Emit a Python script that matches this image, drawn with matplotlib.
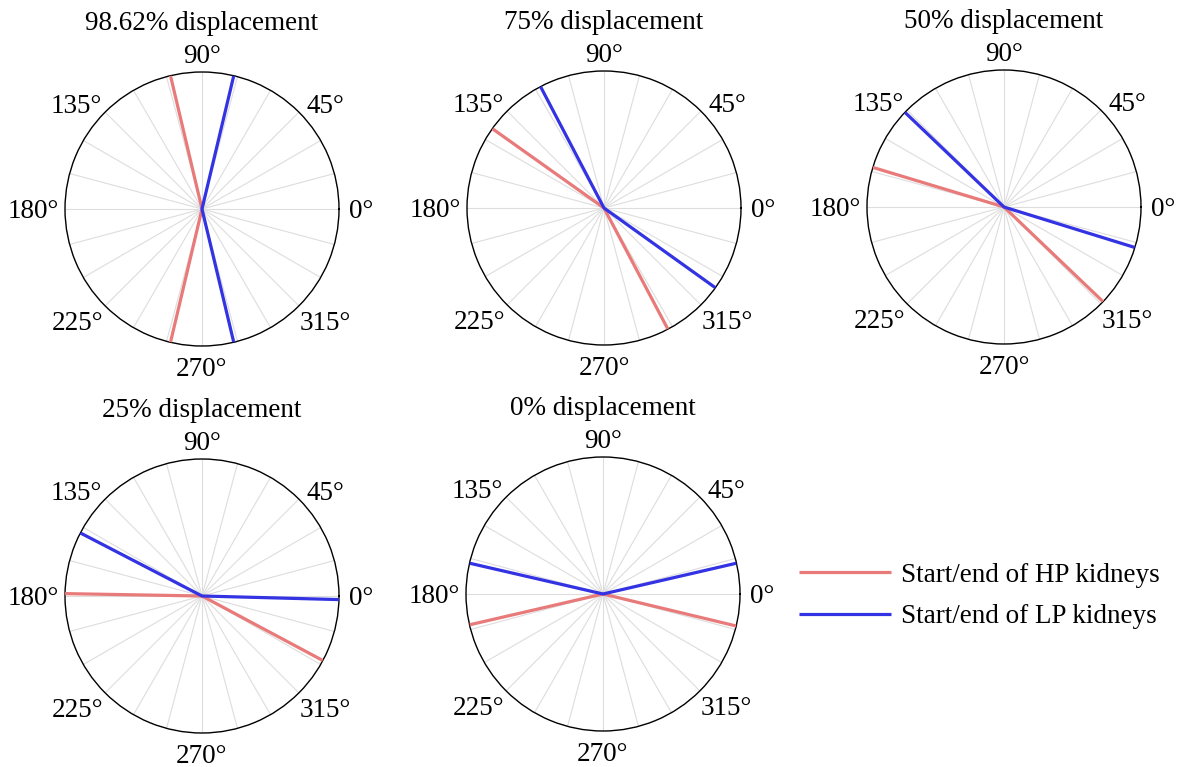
import numpy as np
import matplotlib
matplotlib.use("Agg")
import matplotlib.pyplot as plt

plt.rcParams['font.family'] = ['Liberation Serif', 'DejaVu Serif']

titles = ["98.62% displacement", "75% displacement", "50% displacement",
          "25% displacement", "0% displacement"]
# start/end angles (degrees) of HP and LP kidneys
hp_start = [103.3, 144.6, 163.2, 179.0, 193.0]
hp_end = [256.7, 297.8, 316.3, 331.9, 346.5]
lp_start = [76.6, 117.6, 136.3, 152.6, 13.0]
lp_end = [283.4, 324.4, 342.8, 358.5, 167.0]
tick_deg = [0, 45, 90, 135, 180, 225, 270, 315]
tick_labels = ["0°", "45°", "90°", "135°", "180°", "225°", "270°", "315°"]
legend_labels = ["Start/end of HP kidneys", "Start/end of LP kidneys"]

HP_COLOR = '#E87A7A'
LP_COLOR = '#3333E3'
FS = 19.5

# label placement style: (dx px, dy px (up), ha) relative to circle point, baseline aligned
label_style = {
    0: (10, -9, 'left'), 45: (8, -1, 'left'), 90: (0, 9, 'center'),
    135: (-3, -1, 'right'), 180: (-6, -9, 'right'), 225: (-2, -24, 'right'),
    270: (0, -30, 'center'), 315: (1, -24, 'left'),
}

W, H = 1178, 767
fig = plt.figure(figsize=(W / 100, H / 100), dpi=100)

centers = [(202, 209), (604, 208), (1004, 207), (202, 596), (603, 594)]
R = 137

def draw_pair(ax, a, b, color):
    t1, t2 = np.deg2rad(a), np.deg2rad(b)
    line, = ax.plot([t1, t1, t2, t2], [1, 0, 0, 1], color=color, lw=2.3,
                    solid_capstyle='butt', zorder=3)
    return line

handles = []
for i, (cx, cy) in enumerate(centers):
    ax = fig.add_axes([(cx - R) / W, (H - cy - R) / H, 2 * R / W, 2 * R / H],
                      projection='polar')
    ax.set_ylim(0, 1)
    ax.set_yticks([])
    ax.set_thetagrids(np.arange(0, 360, 15), labels=[''] * 24)
    ax.xaxis.grid(True, color='#DDDDDD', lw=0.8)
    ax.yaxis.grid(False)
    ax.tick_params(axis='x', length=0)
    ax.spines['polar'].set_color('black')
    ax.spines['polar'].set_linewidth(1.0)
    for d, lab in zip(tick_deg, tick_labels):
        dx, dy, ha = label_style[d]
        ax.annotate(lab, xy=(np.deg2rad(d), 1.0), xycoords='data',
                    xytext=(dx, dy), textcoords='offset pixels',
                    ha=ha, va='baseline', fontsize=FS, annotation_clip=False)
    h1 = draw_pair(ax, hp_start[i], hp_end[i], HP_COLOR)
    h2 = draw_pair(ax, lp_start[i], lp_end[i], LP_COLOR)
    ax.set_title(titles[i], fontsize=FS, y=1.153, pad=0)
    handles = [h1, h2]

fig.legend(handles, legend_labels, loc='center left',
           bbox_to_anchor=(775 / W, 1 - 596 / H), frameon=False, fontsize=FS,
           handlelength=3.4, handletextpad=0.37, labelspacing=0.6)

fig.savefig('out.png', dpi=100)
